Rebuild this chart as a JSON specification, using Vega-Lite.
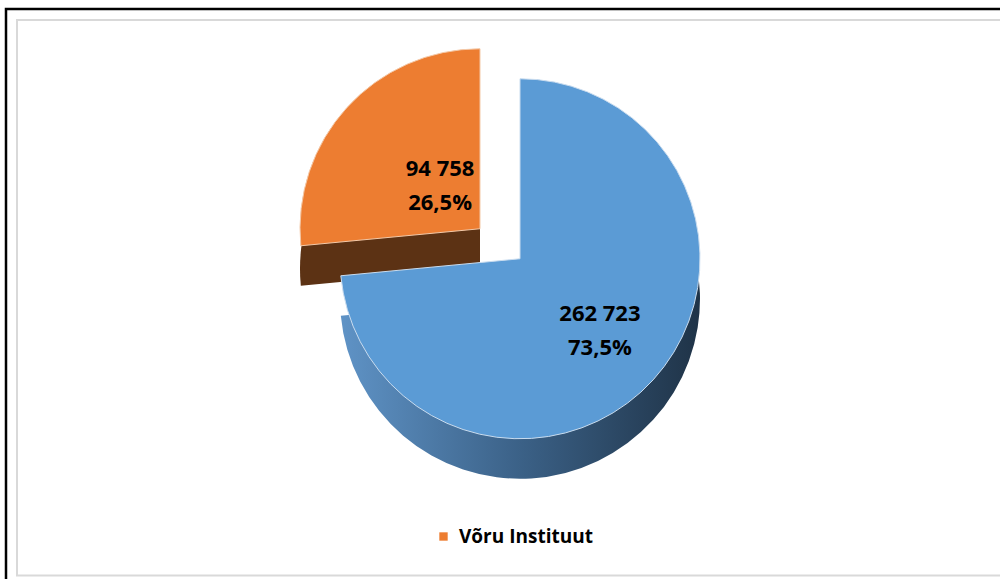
{
  "$schema": "https://vega.github.io/schema/vega-lite/v6.json",
  "width": 1020,
  "height": 577.5,
  "autosize": {"type": "none"},
  "padding": {"left": 6, "top": 9, "right": 0, "bottom": 0},
  "background": "white",
  "config": {
    "view": {"stroke": null},
    "locale": {"number": {"decimal": ",", "thousands": " ", "grouping": [3], "currency": ["", " €"], "percent": "%"}}
  },
  "data": {
    "values": [
      {"cat": "Muud", "value": 262723, "pct": 0.735, "order": 1},
      {"cat": "Võru Instituut", "value": 94758, "pct": 0.265, "order": 2}
    ]
  },
  "transform": [
    {"stack": "value", "groupby": [], "sort": [{"field": "order", "order": "ascending"}], "as": ["v0", "v1"]}
  ],
  "layer": [
    {
      "data": {"values": [{}]},
      "mark": {"type": "rect", "fill": null, "stroke": "#d9d9d9", "strokeWidth": 24},
      "encoding": {}
    },
    {
      "data": {"values": [{}]},
      "mark": {"type": "rect", "fill": null, "stroke": "#ffffff", "strokeWidth": 20},
      "encoding": {}
    },
    {
      "data": {"values": [{}]},
      "mark": {"type": "rect", "fill": null, "stroke": "#000000", "strokeWidth": 2.5},
      "encoding": {}
    },
    {
      "transform": [{"filter": "datum.cat === 'Võru Instituut'"}],
      "mark": {"type": "arc", "outerRadius": 180, "fill": "#5c3214", "xOffset": -36, "yOffset": -29},
      "encoding": {
        "theta": {"field": "v0", "type": "quantitative", "scale": {"domain": [0, 357481]}},
        "theta2": {"field": "v1"}
      }
    },
    {
      "transform": [{"filter": "datum.cat === 'Võru Instituut'"}],
      "mark": {"type": "arc", "outerRadius": 180, "stroke": "#f4c9a8", "strokeWidth": 1, "xOffset": -36, "yOffset": -69},
      "encoding": {
        "theta": {"field": "v0", "type": "quantitative"},
        "theta2": {"field": "v1"},
        "color": {
          "field": "cat", "type": "nominal",
          "scale": {"domain": ["Muud", "Võru Instituut"], "range": ["#5b9bd5", "#ed7d31"]},
          "legend": {
            "values": ["Võru Instituut"], "title": null, "orient": "none",
            "legendX": 428, "legendY": 518, "padding": 0,
            "symbolType": "square", "symbolSize": 70, "symbolStrokeWidth": 0,
            "labelFont": "Open Sans", "labelFontWeight": "bold", "labelFontSize": 19, "labelColor": "#000000", "labelOffset": 6
          }
        }
      }
    },
    {
      "transform": [{"filter": "datum.cat === 'Muud'"}],
      "mark": {
        "type": "arc", "outerRadius": 180, "xOffset": 4, "yOffset": 1,
        "fill": {"x1": 0, "y1": 0, "x2": 1, "y2": 0, "gradient": "linear", "stops": [
          {"offset": 0, "color": "#5f93c6"},
          {"offset": 0.5, "color": "#3b6187"},
          {"offset": 1, "color": "#1f3347"}
        ]}
      },
      "encoding": {
        "theta": {"field": "v0", "type": "quantitative"},
        "theta2": {"field": "v1"}
      }
    },
    {
      "transform": [{"filter": "datum.cat === 'Muud'"}],
      "mark": {"type": "arc", "outerRadius": 180, "stroke": "#c9dcef", "strokeWidth": 1, "xOffset": 4, "yOffset": -39},
      "encoding": {
        "theta": {"field": "v0", "type": "quantitative"},
        "theta2": {"field": "v1"},
        "color": {"field": "cat", "type": "nominal"}
      }
    },
    {
      "mark": {"type": "text", "radius": 108, "font": "Open Sans", "fontWeight": "bold", "fontSize": 22, "color": "#000000", "xOffset": 4, "yOffset": -39, "dy": -17},
      "encoding": {
        "theta": {"field": "value", "type": "quantitative", "stack": true},
        "order": {"field": "order", "type": "quantitative"},
        "text": {"field": "value", "type": "quantitative", "format": ",.0f"}
      }
    },
    {
      "mark": {"type": "text", "radius": 108, "font": "Open Sans", "fontWeight": "bold", "fontSize": 22, "color": "#000000", "xOffset": 4, "yOffset": -39, "dy": 17},
      "encoding": {
        "theta": {"field": "value", "type": "quantitative", "stack": true},
        "order": {"field": "order", "type": "quantitative"},
        "text": {"field": "pct", "type": "quantitative", "format": ".1%"}
      }
    }
  ]
}
